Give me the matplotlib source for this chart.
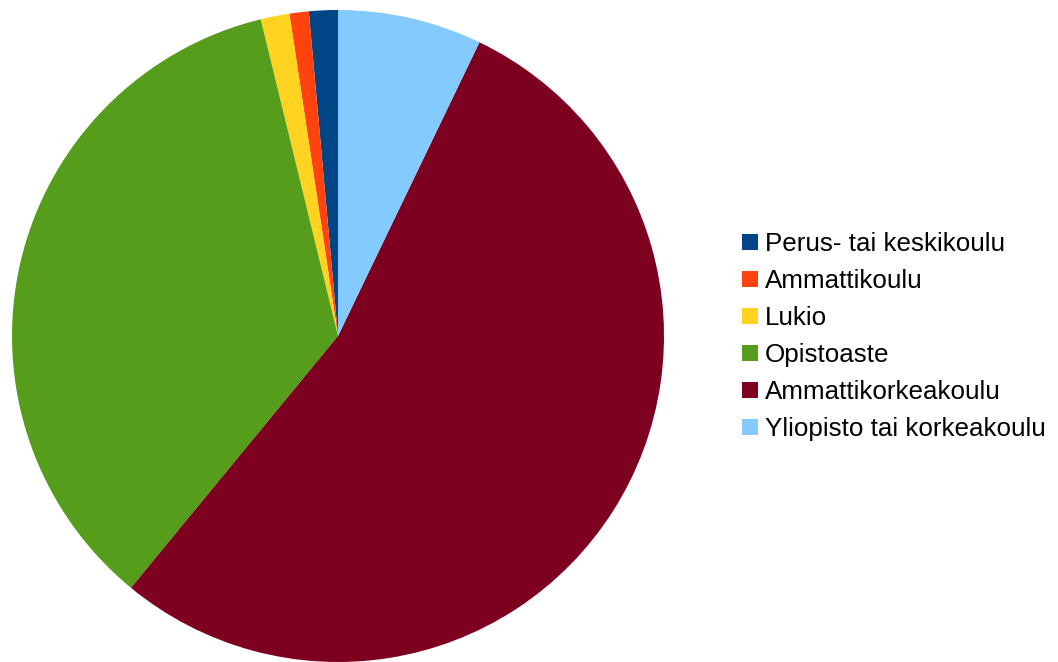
import matplotlib
matplotlib.use("Agg")
import matplotlib.pyplot as plt
from matplotlib.patches import Patch

plt.rcParams['font.family'] = ['Liberation Sans', 'DejaVu Sans']

categories = ["Perus- tai keskikoulu", "Ammattikoulu", "Lukio", "Opistoaste",
              "Ammattikorkeakoulu", "Yliopisto tai korkeakoulu"]
values = [3, 2, 3, 74, 113, 15]
colors = ["#004586", "#ff420e", "#ffd320", "#579d1c", "#7e0021", "#83caff"]

W, H = 1058, 662
fig = plt.figure(figsize=(W / 100, H / 100), dpi=100)
cx, cy, r = 338, 336, 326
ax = fig.add_axes([(cx - r) / W, (H - cy - r) / H, 2 * r / W, 2 * r / H])
ax.pie(values, colors=colors, startangle=90, counterclock=True, radius=1.0,
       wedgeprops=dict(linewidth=0))
ax.set_xlim(-1, 1)
ax.set_ylim(-1, 1)
ax.set_aspect('equal')
ax.axis('off')

handles = [Patch(facecolor=c, edgecolor='none') for c in colors]
fig.legend(handles, categories, loc='center left',
           bbox_to_anchor=(742 / W, 1 - 336.5 / H), frameon=False,
           fontsize=18.7, handlelength=0.6, handleheight=0.6,
           handletextpad=0.28, labelspacing=0.5, borderpad=0, borderaxespad=0)

fig.savefig("out.png", dpi=100)
